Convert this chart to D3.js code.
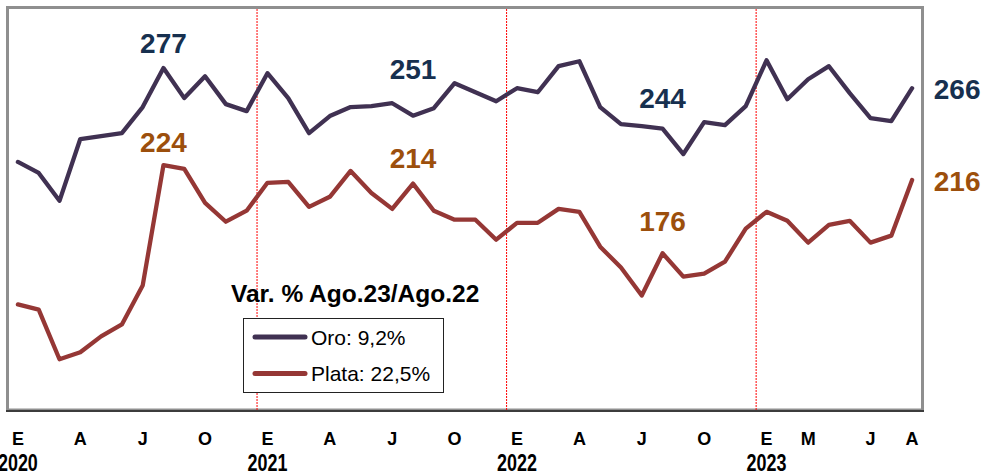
<!DOCTYPE html>
<html lang="es">
<head>
  <meta charset="UTF-8" />
  <title>Oro y Plata</title>
  <script src="https://d3js.org/d3.v7.min.js"></script>
  <style>
    body {
      margin: 0;
      background: #ffffff;
      font-family: "Liberation Sans", Arial, sans-serif;
    }
    svg {
      display: block;
    }
  </style>
</head>
<body>
<svg id="chart" width="983" height="475"></svg>

<script>
  // Monthly data, Jan 2020 - Aug 2023
  const months = [
    "2020-01","2020-02","2020-03","2020-04","2020-05","2020-06","2020-07","2020-08","2020-09","2020-10","2020-11","2020-12",
    "2021-01","2021-02","2021-03","2021-04","2021-05","2021-06","2021-07","2021-08","2021-09","2021-10","2021-11","2021-12",
    "2022-01","2022-02","2022-03","2022-04","2022-05","2022-06","2022-07","2022-08","2022-09","2022-10","2022-11","2022-12",
    "2023-01","2023-02","2023-03","2023-04","2023-05","2023-06","2023-07","2023-08"
  ];

  const oro = [
    225.8, 219.8, 204.6, 238.3, 239.9, 241.5, 255.7, 277, 260.6, 272.5, 257.3, 253.5,
    274.2, 260.6, 241.5, 250.8, 255.7, 256.2, 257.8, 251, 255.1, 268.7, 263.8, 258.9,
    266, 263.8, 278, 280.7, 255.7, 246.4, 245.3, 244, 230.1, 247.5, 245.9, 256.2,
    281.2, 260, 270.9, 278, 263.3, 249.7, 248.1, 266
  ];

  const plata = [
    148.1, 145.3, 118.2, 122, 130.7, 137.2, 158.4, 224, 222, 203.5, 193.2, 199.2,
    214.4, 214.9, 201.3, 206.8, 220.9, 208.9, 200.2, 214, 199.2, 194.3, 194.3, 183.4,
    192.6, 192.6, 200.2, 198.6, 179.6, 168.2, 153, 176, 163.3, 164.9, 171.4, 189.4,
    198.6, 193.7, 181.8, 191.5, 193.7, 181.8, 185.6, 216
  ];

  // x-axis tick labels (month initial) and year labels
  const monthTicks = [
    ["2020-01","E"],["2020-04","A"],["2020-07","J"],["2020-10","O"],
    ["2021-01","E"],["2021-04","A"],["2021-07","J"],["2021-10","O"],
    ["2022-01","E"],["2022-04","A"],["2022-07","J"],["2022-10","O"],
    ["2023-01","E"],["2023-03","M"],["2023-06","J"],["2023-08","A"]
  ];
  const yearTicks = [["2020-01","2020"],["2021-01","2021"],["2022-01","2022"],["2023-01","2023"]];
  const yearStarts = ["2021-01","2022-01","2023-01"];

  // Labelled months (August of each year)
  const labelMonths = ["2020-08","2021-08","2022-08","2023-08"];

  const legendTitle = "Var. % Ago.23/Ago.22";
  const legendItems = ["Oro: 9,2%", "Plata: 22,5%"];

  const colors = { oro: "#403152", plata: "#953735", oroText: "#17304f", plataText: "#9c4f0c" };

  const svg = d3.select("#chart");
  const plot = { left: 7.5, right: 922.5, top: 7.5, bottom: 411 };

  const x = d3.scaleBand().domain(months).range([plot.left, plot.right]);
  const xc = m => x(m) + x.bandwidth() / 2;
  const y = d3.scaleLinear().domain([90, 310]).range([plot.bottom, plot.top]);

  // plot frame
  svg.append("rect")
    .attr("x", plot.left).attr("y", plot.top)
    .attr("width", plot.right - plot.left).attr("height", plot.bottom - plot.top - 1)
    .attr("fill", "none").attr("stroke", "#8f8f8f").attr("stroke-width", 3);
  svg.append("line")
    .attr("x1", plot.left - 1.5).attr("x2", plot.right + 1.5)
    .attr("y1", plot.bottom).attr("y2", plot.bottom)
    .attr("stroke", "#3c3c3c").attr("stroke-width", 2);

  // year separators
  svg.selectAll(".sep").data(yearStarts).enter().append("line")
    .attr("x1", d => x(d)).attr("x2", d => x(d))
    .attr("y1", plot.top + 1.5).attr("y2", plot.bottom - 1)
    .attr("stroke", "#ff0000").attr("stroke-width", 1)
    .attr("stroke-dasharray", "2,1");

  // legend
  svg.append("text")
    .attr("x", 231).attr("y", 302)
    .attr("font-size", 24.5).attr("font-weight", "bold").attr("fill", "#000")
    .text(legendTitle);
  svg.append("rect")
    .attr("x", 243.5).attr("y", 318.5).attr("width", 200).attr("height", 74)
    .attr("fill", "#fff").attr("stroke", "#222").attr("stroke-width", 1);
  const legendColors = [colors.oro, colors.plata];
  legendItems.forEach((t, i) => {
    const ly = 337 + i * 36.5;
    svg.append("line")
      .attr("x1", 255).attr("x2", 305).attr("y1", ly).attr("y2", ly)
      .attr("stroke", legendColors[i]).attr("stroke-width", 5).attr("stroke-linecap", "round");
    svg.append("text")
      .attr("x", 311).attr("y", ly + 7.5)
      .attr("font-size", 21).attr("fill", "#000")
      .text(t);
  });

  // lines
  const line = d3.line().x((d, i) => xc(months[i])).y(d => y(d));
  [[plata, colors.plata], [oro, colors.oro]].forEach(([vals, c]) => {
    svg.append("path")
      .datum(vals)
      .attr("fill", "none")
      .attr("stroke", c)
      .attr("stroke-width", 4.3)
      .attr("stroke-linejoin", "round")
      .attr("stroke-linecap", "round")
      .attr("d", line);
  });

  // value labels (offsets above the point; last one goes to the right)
  const oroDy = [-15, -37, -21, 11];
  const plataDy = [-13, -16, -22, 11];
  labelMonths.forEach((m, k) => {
    const i = months.indexOf(m);
    const last = k === labelMonths.length - 1;
    const lx = last ? xc(m) + 45 : xc(m);
    svg.append("text")
      .attr("x", lx).attr("y", y(oro[i]) + oroDy[k])
      .attr("text-anchor", "middle").attr("font-size", 28).attr("font-weight", "bold")
      .attr("fill", colors.oroText)
      .text(d3.format(".0f")(oro[i]));
    svg.append("text")
      .attr("x", lx).attr("y", y(plata[i]) + plataDy[k])
      .attr("text-anchor", "middle").attr("font-size", 28).attr("font-weight", "bold")
      .attr("fill", colors.plataText)
      .text(d3.format(".0f")(plata[i]));
  });

  // x axis labels
  svg.selectAll(".mt").data(monthTicks).enter().append("text")
    .attr("x", d => xc(d[0])).attr("y", 445)
    .attr("text-anchor", "middle").attr("font-size", 18).attr("font-weight", "bold")
    .attr("fill", "#000")
    .text(d => d[1]);
  svg.selectAll(".yt").data(yearTicks).enter().append("text")
    .attr("transform", d => `translate(${xc(d[0])},471) scale(0.78,1)`)
    .attr("text-anchor", "middle").attr("font-size", 23).attr("font-weight", "bold")
    .attr("fill", "#000")
    .text(d => d[1]);
</script>
</body>
</html>
